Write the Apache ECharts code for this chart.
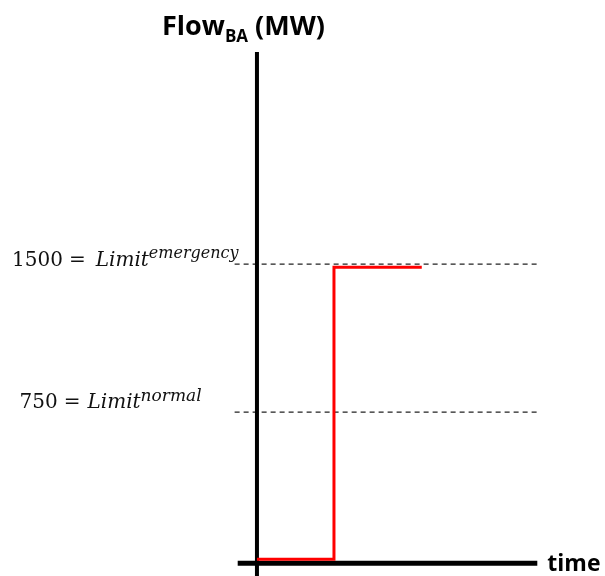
<!DOCTYPE html>
<html>
<head>
<meta charset="utf-8">
<script src="https://cdn.jsdelivr.net/npm/echarts@6/dist/echarts.min.js"></script>
<style>
html,body{margin:0;padding:0;background:#fff;}
#c{width:605px;height:576px;}
</style>
</head>
<body>
<div id="c"></div>
<script>
// ---- data ----
const limitValues = [1500, 750];
const limitNames = ['emergency', 'normal'];
const flowTime = [0, 10, 10, 21.4];
const flowValue = [5, 5, 1485, 1485];
const axisTitle = 'Flow';
const axisTitleSub = 'BA';
const axisUnit = ' (MW)';
const timeLabel = 'time';
// axis extents (data units)
const xAxisRange = [-2.5, 36.4];
const xAxisLevel = -15;
const yAxisRange = [-80, 2575];
const dashRange = [-2.9, 36.4];

const chart = echarts.init(document.getElementById('c'), null, {renderer: 'canvas'});

const labelOffsets = [[4, -5.5], [-33, -12]];
const eqPad = [[0, 10, 0, 6], [0, 7, 0, 6]];
const supSize = [16, 17];

const serifRich = (i) => ({
  n: {fontFamily: 'DejaVu Serif', fontSize: 20, color: '#111', verticalAlign: 'bottom', lineHeight: 25},
  e: {fontFamily: 'DejaVu Serif', fontSize: 20, color: '#111', verticalAlign: 'bottom', lineHeight: 25, padding: eqPad[i]},
  l: {fontFamily: 'DejaVu Serif', fontStyle: 'italic', fontSize: 20, color: '#111', verticalAlign: 'bottom', lineHeight: 25},
  s: {fontFamily: 'DejaVu Serif', fontStyle: 'italic', fontSize: supSize[i], color: '#111', verticalAlign: 'top', lineHeight: 25}
});

const option = {
  animation: false,
  backgroundColor: '#fff',
  title: {
    text: '{a|' + axisTitle + '}{b|' + axisTitleSub + '}{a|' + axisUnit + '}',
    left: 157,
    top: 9,
    textStyle: {
      rich: {
        a: {fontFamily: 'Open Sans', fontWeight: 'bold', fontSize: 27, color: '#000', verticalAlign: 'top', lineHeight: 32},
        b: {fontFamily: 'Open Sans', fontWeight: 'bold', fontSize: 17, color: '#000', verticalAlign: 'bottom', lineHeight: 32}
      }
    }
  },
  grid: {left: 230, right: 60, top: 52, bottom: 0},
  xAxis: {type: 'value', min: -3.5, max: 37.4, show: false},
  yAxis: {type: 'value', min: yAxisRange[0], max: yAxisRange[1], show: false},
  series: [
    ...limitValues.map(v => ({
      type: 'line',
      data: [[dashRange[0], v], [dashRange[1], v]],
      symbol: 'none',
      lineStyle: {color: '#222', width: 1.3, type: [5, 4]},
      z: 1
    })),
    {
      type: 'line',
      data: [[xAxisRange[0], xAxisLevel], [xAxisRange[1], xAxisLevel]],
      symbol: 'none',
      lineStyle: {color: '#000', width: 5, cap: 'butt'},
      z: 2
    },
    {
      type: 'line',
      data: [[0, yAxisRange[0]], [0, yAxisRange[1]]],
      symbol: 'none',
      lineStyle: {color: '#000', width: 4, cap: 'butt'},
      z: 2
    },
    {
      type: 'line',
      data: flowTime.map((t, i) => [t, flowValue[i]]),
      symbol: 'none',
      lineStyle: {color: '#ff0000', width: 3, join: 'miter'},
      z: 3
    },
    {
      type: 'scatter',
      symbolSize: 0,
      silent: true,
      itemStyle: {opacity: 1},
      data: limitValues.map((v, i) => ({
        value: [dashRange[0], v],
        name: limitNames[i],
        label: {offset: labelOffsets[i], rich: serifRich(i)}
      })),
      label: {
        show: true,
        position: 'left',
        distance: 0,
        formatter: p => '{n|' + p.value[1] + '}{e|=}{l|Limit}{s|' + p.name + '}'
      },
      z: 4
    },
    {
      type: 'scatter',
      symbolSize: 0,
      silent: true,
      itemStyle: {opacity: 1},
      data: [{value: [xAxisRange[1], xAxisLevel], name: timeLabel}],
      label: {
        show: true,
        position: 'right',
        distance: 10,
        offset: [0, 1],
        formatter: p => p.name,
        fontFamily: 'Open Sans',
        fontWeight: 'bold',
        fontSize: 23,
        color: '#000'
      },
      z: 4
    }
  ]
};
chart.setOption(option);
</script>
</body>
</html>
